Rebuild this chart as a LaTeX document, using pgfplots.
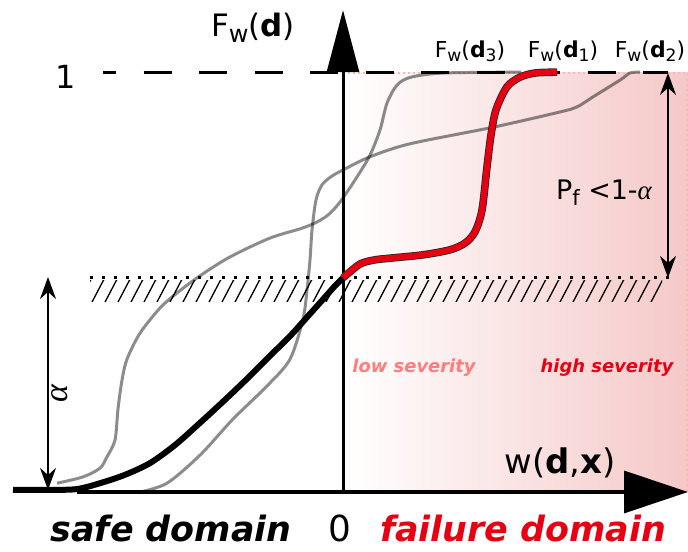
\documentclass[border=0pt]{standalone}
\usepackage{fontspec}
\setmainfont{DejaVu Sans}
\newfontfamily\alphafont{Liberation Serif}
\usepackage{graphicx}
\usepackage{pgfplots}
\pgfplotsset{compat=1.18}
\usetikzlibrary{arrows.meta,patterns.meta}
\definecolor{failred}{RGB}{230,0,18}
\definecolor{lowred}{RGB}{255,125,125}
\definecolor{pinkR}{RGB}{245,200,200}
\definecolor{pinkB}{RGB}{250,185,185}
\newcommand{\sub}[1]{\raisebox{-0.35ex}{\scalebox{0.78}{#1}}}
\newcommand{\alp}{{\alphafont\itshape α}}
\tikzdeclarepattern{
  name=hatchx,
  type=uncolored,
  bounding box={(-1bp,-2bp) and (14bp,27bp)},
  tile size={(13bp,24.8bp)},
  code={\draw[line width=1.3bp] (-0.65bp,-1.24bp) -- (13.65bp,26.04bp);}
}
\begin{document}
\begin{tikzpicture}
\begin{axis}[scale only axis, width=688bp, height=552bp,
  xmin=-3.43, xmax=3.45, ymin=-0.1432, ymax=1.1742,
  hide axis, clip=false, anchor=south west, at={(0,0)}]
% failure domain shading
\addplot[draw=none, left color=white, right color=pinkR] coordinates {(0,0) (3.45,0) (3.45,1) (0,1) (0,0)};
\addplot[pinkB, line width=2bp, dash pattern=on 2bp off 3bp] coordinates {(0,1) (3.435,1) (3.435,0)};
% hatch below alpha level
\fill[pattern=hatchx, pattern color=black] (axis cs:-2.53,0.4535) rectangle (axis cs:3.19,0.5036);
% alpha level (dotted)
\addplot[black, line width=3bp, dash pattern=on 3bp off 9bp] coordinates {(-2.53,0.511) (3.27,0.511)};
% level 1 (dashed)
\addplot[black, line width=3bp, dash pattern=on 28bp off 27.5bp, dash phase=15bp] coordinates {(-2.40,1) (3.25,1)};
% F_w(d3)
\addplot[black, opacity=0.45, line width=3bp, smooth] coordinates {
(-2.86,0.021) (-2.60,0.036) (-2.43,0.057) (-2.36,0.084) (-2.28,0.124) (-2.25,0.198)
(-2.21,0.267) (-2.16,0.317) (-2.03,0.379) (-1.83,0.439) (-1.66,0.475) (-1.43,0.516)
(-1.13,0.561) (-0.73,0.606) (-0.43,0.628) (-0.28,0.642) (-0.15,0.661) (-0.03,0.692)
(0.14,0.752) (0.27,0.804) (0.37,0.864) (0.44,0.928) (0.54,0.971) (0.68,0.990) (1.01,1.0) (1.78,1.002)};
% F_w(d2)
\addplot[black, opacity=0.45, line width=3bp, smooth] coordinates {
(-2.03,0) (-1.76,0.021) (-1.43,0.088) (-1.10,0.174) (-0.76,0.253) (-0.53,0.317)
(-0.40,0.413) (-0.36,0.482) (-0.33,0.554) (-0.31,0.625) (-0.27,0.697) (-0.21,0.733)
(-0.11,0.754) (0.02,0.771) (0.27,0.800) (0.67,0.831) (1.51,0.871) (2.17,0.907)
(2.34,0.919) (2.50,0.943) (2.77,0.983) (2.87,1.0) (2.97,1.002)};
% axes
\addplot[black, line width=3bp, -{Triangle[length=62bp,width=32bp]}] coordinates {(0,0) (0,1.150)};
\addplot[black, line width=3.5bp, -{Triangle[length=64bp,width=42bp]}] coordinates {(-2.66,0) (3.45,0)};
% F_w(d) for safe part (black)
\addplot[black, line width=6bp, smooth] coordinates {
(-3.30,0.005) (-2.93,0.005) (-2.66,0.007) (-2.43,0.021) (-2.18,0.041) (-1.93,0.069)
(-1.68,0.112) (-1.43,0.165) (-1.18,0.220) (-0.93,0.277) (-0.73,0.325) (-0.53,0.372)
(-0.33,0.425) (-0.18,0.465) (-0.08,0.492) (0,0.511)};
% F_w(d1) failure part (red)
\addplot[black!85, line width=7.6bp, smooth] coordinates {
(0,0.511) (0.17,0.544) (0.32,0.554) (0.47,0.558) (0.80,0.566) (1.07,0.578) (1.22,0.594)
(1.32,0.621) (1.39,0.673) (1.44,0.776) (1.48,0.852) (1.53,0.912) (1.64,0.967) (1.77,0.990) (1.92,1.0) (2.14,1.002)};
\addplot[failred, line width=6bp, smooth] coordinates {
(0,0.511) (0.17,0.544) (0.32,0.554) (0.47,0.558) (0.80,0.566) (1.07,0.578) (1.22,0.594)
(1.32,0.621) (1.39,0.673) (1.44,0.776) (1.48,0.852) (1.53,0.912) (1.64,0.967) (1.77,0.990) (1.92,1.0) (2.14,1.002)};
% double arrows
\addplot[black, line width=1.5bp, {Stealth[length=22bp,width=16bp]}-{Stealth[length=22bp,width=16bp]}] coordinates {(-2.95,0.513) (-2.95,0.005)};
\addplot[black, line width=1.5bp, {Stealth[length=22bp,width=16bp]}-{Stealth[length=22bp,width=16bp]}] coordinates {(3.25,1) (3.25,0.511)};
% texts
\node[font=\fontsize{31}{31}\selectfont, anchor=base, inner sep=0pt] at (axis cs:-0.90,1.086) {F\sub{w}(\textbf{d})};
\node[font=\fontsize{32}{32}\selectfont, anchor=base, inner sep=0pt] at (axis cs:-2.77,0.964) {1};
\node[font=\fontsize{22}{22}\selectfont, anchor=base, inner sep=0pt] at (axis cs:1.27,1.038) {F\sub{w}(\textbf{d}\sub{3})};
\node[font=\fontsize{22}{22}\selectfont, anchor=base, inner sep=0pt] at (axis cs:2.20,1.038) {F\sub{w}(\textbf{d}\sub{1})};
\node[font=\fontsize{22}{22}\selectfont, anchor=base, inner sep=0pt] at (axis cs:3.07,1.038) {F\sub{w}(\textbf{d}\sub{2})};
\node[font=\fontsize{34}{34}\selectfont, anchor=base, inner sep=0pt] at (axis cs:2.17,0.045) {w(\textbf{d},\textbf{x})};
\node[font=\fontsize{27}{27}\selectfont, anchor=base, inner sep=0pt] at (axis cs:2.61,0.697) {P\sub{f} <1-\alp};
\node[font=\fontsize{34}{34}\selectfont, rotate=90, inner sep=0pt] at (axis cs:-2.83,0.236) {\alp};
\node[font=\fontsize{18}{18}\selectfont\bfseries\itshape, text=lowred, anchor=base, inner sep=0pt] at (axis cs:0.71,0.284) {low severity};
\node[font=\fontsize{18}{18}\selectfont\bfseries\itshape, text=failred, anchor=base, inner sep=0pt] at (axis cs:2.64,0.284) {high severity};
\node[font=\fontsize{35}{35}\selectfont\bfseries\itshape, anchor=base, inner sep=0pt] at (axis cs:-1.72,-0.1193) {safe domain};
\node[font=\fontsize{36}{36}\selectfont, anchor=base, inner sep=0pt] at (axis cs:-0.03,-0.1193) {0};
\node[font=\fontsize{35}{35}\selectfont\bfseries\itshape, text=failred, anchor=base, inner sep=0pt] at (axis cs:1.80,-0.1193) {failure domain};
\end{axis}
\pgfresetboundingbox
\useasboundingbox (0,0) rectangle (688bp,552bp);
\end{tikzpicture}
\end{document}
